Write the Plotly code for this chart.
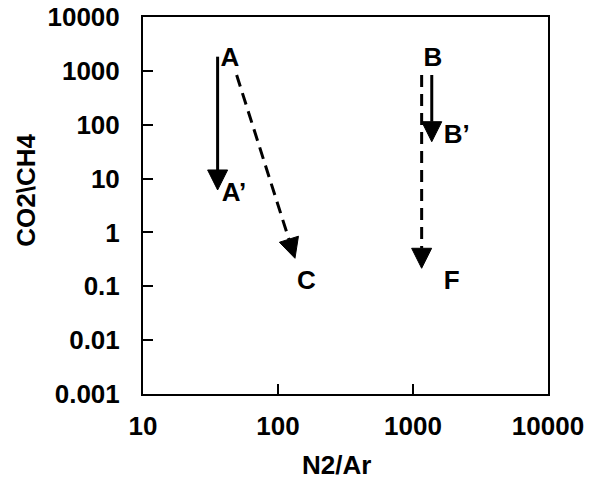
import plotly.graph_objects as go

# x tick labels / y tick labels
x_ticks = [10, 100, 1000, 10000]
x_ticktext = ["10", "100", "1000", "10000"]
y_ticks = [0.001, 0.01, 0.1, 1, 10, 100, 1000, 10000]
y_ticktext = ["0.001", "0.01", "0.1", "1", "10", "100", "1000", "10000"]

# arrows: [start, end] in data units (N2/Ar, CO2/CH4)
arrow_names = ["A-A'", "A-C", "B-B'", "B-F"]
arrow_x = [[35.7, 35.7], [49.4, 133.6], [1377, 1377], [1159, 1159]]
arrow_y = [[1833, 6.14], [838, 0.331], [838, 48.4], [838, 0.216]]
arrow_dash = ["solid", "12px,7px", "solid", "12px,7px"]

# point labels
label_text = ["A", "A\u2019", "C", "B", "B\u2019", "F"]
label_x = [44.1, 47.2, 162.5, 1406, 2109, 1936]
label_y = [1592, 4.96, 0.1175, 1592, 60, 0.1175]

FONT = "Liberation Sans, Arial, sans-serif"
FS = 26

fig = go.Figure()
for name, xs, ys, dash in zip(arrow_names, arrow_x, arrow_y, arrow_dash):
    fig.add_trace(go.Scatter(
        x=xs, y=ys, mode="lines+markers", name=name,
        line=dict(color="black", width=3, dash=dash),
        marker=dict(symbol="arrow-up", size=[0, 20], color="black", opacity=1,
                    angleref="previous", line=dict(width=1, color="black")),
        showlegend=False, hoverinfo="skip",
    ))

fig.add_trace(go.Scatter(
    x=label_x, y=label_y, mode="text", text=label_text,
    textfont=dict(family=FONT, size=FS, color="black", weight="bold"),
    showlegend=False, hoverinfo="skip",
))

axis_common = dict(
    type="log", showgrid=False, zeroline=False, automargin=False,
    showline=True, linecolor="black", linewidth=2, mirror=True,
    ticks="inside", ticklen=10, tickwidth=2, tickcolor="black",
    tickfont=dict(family=FONT, size=FS, color="black", weight="bold"),
)

fig.update_xaxes(**axis_common, range=[1, 4], tickvals=x_ticks, ticktext=x_ticktext,
                 ticklabelstandoff=8)
fig.update_yaxes(**axis_common, range=[-3, 4], tickvals=y_ticks, ticktext=y_ticktext,
                 ticklabelstandoff=16)

fig.add_annotation(text="N2/Ar", xref="paper", yref="paper", x=0.478, y=-0.188,
                   yanchor="middle", xanchor="center", showarrow=False,
                   font=dict(family=FONT, size=FS, color="black", weight="bold"))
fig.add_annotation(text="CO2\\CH4", xref="paper", yref="paper", x=-0.288, y=0.54,
                   textangle=-90, xanchor="center", yanchor="middle", showarrow=False,
                   font=dict(family=FONT, size=FS, color="black", weight="bold"))

fig.update_layout(
    width=591, height=480,
    margin=dict(l=143, r=43, t=17, b=86),
    paper_bgcolor="white", plot_bgcolor="white",
)

fig.write_html("out.html")
